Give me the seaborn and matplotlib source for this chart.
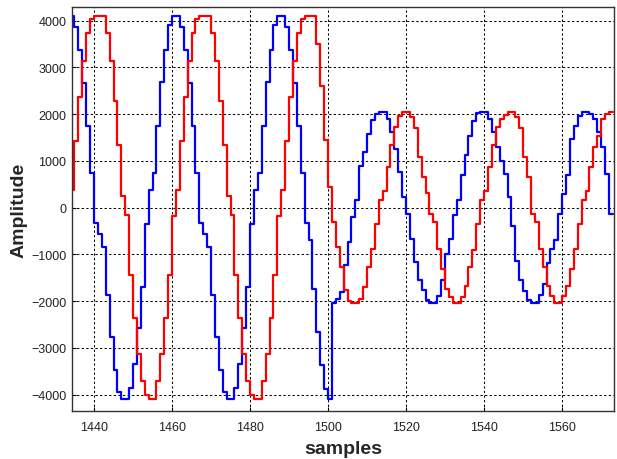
import numpy as np
import pandas as pd
import matplotlib
matplotlib.use("Agg")
import matplotlib.pyplot as plt
import seaborn as sns

# sample index on the x axis
samples = np.arange(1434, 1574)

# blue trace, one value per sample (1434 .. 1573)
blue_vals = [
    4096, 3872, 3381, 2662, 1758, 740, -320, -560, -850, -1872,
    -2761, -3473, -3936, -4096, -4096, -3867, -3345, -2584, -1694, -350,
    370, 740, 1758, 2683, 3381, 3914, 4096, 4096, 3872, 3381,
    2662, 1758, 740, -320, -560, -850, -1872, -2761, -3473, -3936,
    -4096, -4096, -3867, -3345, -2584, -1694, -350, 370, 740, 1758,
    2683, 3381, 3914, 4096, 4096, 3872, 3381, 2662, 1758, 740,
    -320, -700, -1733, -2653, -3373, -3872, -4096, -2048, -1950, -1800,
    -1217, -733, -200, 157, 883, 1189, 1580, 1879, 2007, 2048,
    2048, 1900, 1616, 1250, 762, 228, -142, -662, -1160, -1552,
    -1765, -1979, -2048, -2048, -1893, -1552, -982, -662, -164, 157,
    690, 1117, 1544, 1865, 2021, 2048, 2048, 1900, 1616, 1295,
    1000, 726, 228, -400, -1139, -1537, -1779, -1979, -2048, -2048,
    -1872, -1623, -1181, -875, -697, -142, 300, 690, 1473, 1758,
    1971, 2048, 2048, 2000, 1900, 1616, 1295, 726, -142, -142,
]

# red trace, one value per sample (1434 .. 1573)
red_vals = [
    370, 1423, 2362, 3131, 3729, 4035, 4096, 4096, 4096, 3729,
    3131, 2291, 1331, 242, -150, -1445, -2356, -3138, -3707, -4000,
    -4096, -4096, -3707, -3138, -2356, -1445, -178, 370, 1423, 2362,
    3131, 3729, 4035, 4096, 4096, 4096, 3729, 3131, 2291, 1331,
    242, -150, -1445, -2356, -3138, -3707, -4000, -4096, -4096, -3707,
    -3138, -2356, -1445, -178, 370, 1423, 2362, 3131, 3729, 4035,
    4096, 4096, 4096, 3500, 2600, 1452, 441, -306, -840, -1267,
    -1768, -1990, -2048, -2048, -1946, -1700, -1267, -875, -342, 157,
    356, 868, 1331, 1722, 1971, 2048, 2048, 1936, 1708, 1082,
    655, 313, -142, -306, -875, -1302, -1729, -1900, -2048, -2048,
    -1900, -1679, -1267, -897, -342, 157, 356, 868, 1331, 1722,
    1900, 1990, 2048, 2048, 1936, 1708, 1082, 655, -142, -306,
    -875, -1267, -1679, -1893, -2048, -2048, -1893, -1679, -1302, -875,
    -356, 157, 356, 868, 1295, 1544, 1900, 2007, 2048, 2048,
]

xticks = [1440, 1460, 1480, 1500, 1520, 1540, 1560]
yticks = [-4000, -3000, -2000, -1000, 0, 1000, 2000, 3000, 4000]

sns.set_style("white")
plt.rcParams["font.family"] = ["Liberation Sans", "DejaVu Sans"]

df = pd.DataFrame({
    "samples": np.concatenate([samples, samples]),
    "Amplitude": blue_vals + red_vals,
    "signal": ["blue"] * len(blue_vals) + ["red"] * len(red_vals),
})

fig = plt.figure(figsize=(6.17, 4.60), dpi=100)
ax = fig.add_axes([72 / 617, 1 - 412.3 / 460, (614 - 72) / 617, (412.3 - 7.7) / 460])

sns.lineplot(data=df, x="samples", y="Amplitude", hue="signal",
             palette={"blue": "#0000ff", "red": "#ff0000"},
             drawstyle="steps-post", estimator=None, sort=False,
             linewidth=1.6, legend=False, ax=ax)

ax.set_xlim(1434.36, 1573.3)
ax.set_ylim(-4356, 4300)
ax.set_xticks(xticks)
ax.set_yticks(yticks)

ax.set_axisbelow(True)
ax.grid(True, color="black", linestyle=(0, (2.2, 2.2)), linewidth=0.75)

ax.tick_params(bottom=True, left=True, direction="in", length=3, width=0.8,
               colors="black", labelsize=9)
ax.tick_params(axis="x", pad=7)
ax.tick_params(axis="y", pad=4)
for lbl in ax.get_xticklabels() + ax.get_yticklabels():
    lbl.set_color("#222222")

for sp in ax.spines.values():
    sp.set_color("#333333")
    sp.set_linewidth(1.0)

ax.set_xlabel("samples", fontsize=14, fontweight="bold", labelpad=5)
ax.set_ylabel("Amplitude", fontsize=14, fontweight="bold", labelpad=3)

fig.savefig("out.png", dpi=100)
